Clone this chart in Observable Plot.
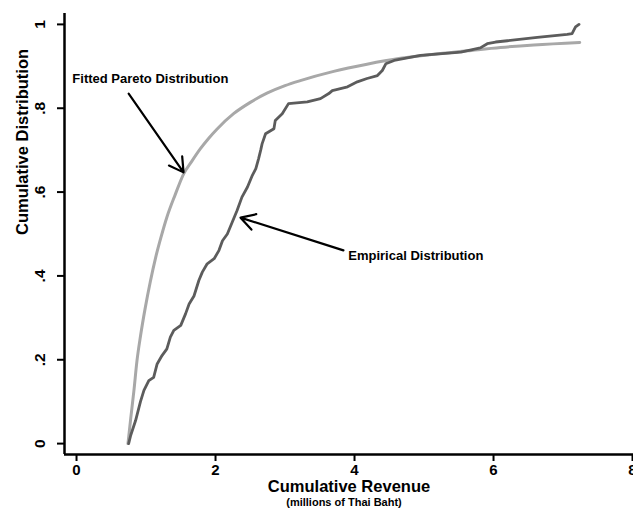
<!DOCTYPE html>
<html>
<head>
<meta charset="utf-8">
<script src="https://cdn.jsdelivr.net/npm/d3@7"></script>
<script src="https://cdn.jsdelivr.net/npm/@observablehq/plot@0.6"></script>
<style>
  html, body { margin: 0; padding: 0; background: #fff; }
</style>
</head>
<body>
<div id="chart"></div>
<script>
// Empirical cumulative distribution (millions of Thai Baht, share)
const empX = [0.75,0.78,0.85,0.92,0.97,1.04,1.11,1.16,1.23,1.30,1.35,1.40,1.50,1.57,1.62,1.69,1.76,1.81,1.88,1.98,2.05,2.10,2.17,2.24,2.31,2.38,2.46,2.53,2.58,2.62,2.65,2.67,2.72,2.84,2.86,2.96,3.05,3.32,3.51,3.63,3.68,3.90,4.04,4.18,4.33,4.40,4.45,4.57,4.95,5.53,5.81,5.91,6.03,6.20,6.63,7.06,7.13,7.18,7.23];
const empY = [0,0.02,0.055,0.10,0.127,0.15,0.158,0.19,0.21,0.226,0.254,0.27,0.282,0.31,0.333,0.352,0.389,0.409,0.429,0.441,0.461,0.484,0.50,0.528,0.556,0.588,0.612,0.64,0.656,0.68,0.70,0.715,0.739,0.751,0.771,0.787,0.811,0.815,0.823,0.835,0.842,0.851,0.863,0.871,0.878,0.890,0.906,0.914,0.926,0.934,0.944,0.954,0.958,0.961,0.969,0.976,0.978,0.994,1.0];

// Fitted Pareto distribution
const parX = [0.74,0.78,0.825,0.87,0.92,0.99,1.06,1.14,1.22,1.30,1.42,1.54,1.66,1.78,1.90,2.02,2.26,2.50,2.74,3.00,3.22,3.70,4.18,4.66,5.14,5.62,6.10,6.58,7.24];
const parY = [0,0.06,0.125,0.198,0.256,0.325,0.385,0.445,0.495,0.54,0.594,0.643,0.674,0.703,0.728,0.75,0.787,0.814,0.836,0.854,0.866,0.888,0.905,0.919,0.929,0.937,0.945,0.951,0.957];

// Axes
const xTicks = [0, 2, 4, 6, 8];
const yTicks = [0, 0.2, 0.4, 0.6, 0.8, 1];
const yTickLabels = ["0", ".2", ".4", ".6", ".8", "1"];
const xDomain = [-0.173, 8.014];
const yDomain = [-0.026, 1.026];

// Annotations
const annLabels = ["Fitted Pareto Distribution", "Empirical Distribution"];
const annTextX = [-0.06, 3.91];
const annTextY = [0.871, 0.449];
const annTailX = [0.75, 3.84];
const annTailY = [0.835, 0.461];
const annHeadX = [1.54, 2.36];
const annHeadY = [0.647, 0.539];

const empirical = empX.map((x, i) => ({x, y: empY[i]}));
const pareto = parX.map((x, i) => ({x, y: parY[i]}));
const yTickData = yTicks.map((v, i) => ({v, label: yTickLabels[i]}));
const annotations = annLabels.map((t, i) => ({
  t, tx: annTextX[i], ty: annTextY[i],
  x1: annTailX[i], y1: annTailY[i], x2: annHeadX[i], y2: annHeadY[i]
}));

const chart = Plot.plot({
  width: 633,
  height: 525,
  marginLeft: 64,
  marginRight: 0,
  marginTop: 13,
  marginBottom: 71,
  style: {fontFamily: "'Liberation Sans', Arial, sans-serif", background: "#fff", color: "#000"},
  x: {domain: xDomain},
  y: {domain: yDomain},
  marks: [
    Plot.line(pareto, {x: "x", y: "y", stroke: "#a8a8a8", strokeWidth: 3, curve: "monotone-x"}),
    Plot.line(empirical, {x: "x", y: "y", stroke: "#5c5c5c", strokeWidth: 2.8}),
    Plot.ruleX([xDomain[0]], {stroke: "#000", strokeWidth: 2.5}),
    Plot.ruleY([yDomain[0]], {stroke: "#000", strokeWidth: 2.5}),
    Plot.axisX({ticks: xTicks, tickSize: 7, tickPadding: 3, tickFormat: d => String(d), label: null,
      fontSize: 15, fontWeight: "bold", strokeWidth: 2}),
    Plot.axisY({ticks: yTicks, tickSize: 7, tickFormat: () => "", label: null, strokeWidth: 2}),
    Plot.text(yTickData, {x: () => xDomain[0], y: "v", text: "label", dx: -24, rotate: -90,
      fontSize: 15.5, fontWeight: "bold", textAnchor: "middle", lineAnchor: "middle", fill: "#000"}),
    Plot.text(["Cumulative Revenue"], {frameAnchor: "bottom", dy: 37.5, fontSize: 16.5, fontWeight: "bold", fill: "#000"}),
    Plot.text(["(millions of Thai Baht)"], {frameAnchor: "bottom", dy: 51, dx: -5, fontSize: 11, fontWeight: "bold", fill: "#000"}),
    Plot.text(["Cumulative Distribution"], {frameAnchor: "left", dx: -42, dy: 1, rotate: -90, fontSize: 16.5, fontWeight: "bold", fill: "#000"}),
    Plot.arrow(annotations, {x1: "x1", y1: "y1", x2: "x2", y2: "y2", stroke: "#000", strokeWidth: 2.2, headLength: 11}),
    Plot.text(annotations, {x: "tx", y: "ty", text: "t", textAnchor: "start", fontSize: 13, fontWeight: "bold", fill: "#000"})
  ]
});
document.getElementById("chart").appendChild(chart);
</script>
</body>
</html>
